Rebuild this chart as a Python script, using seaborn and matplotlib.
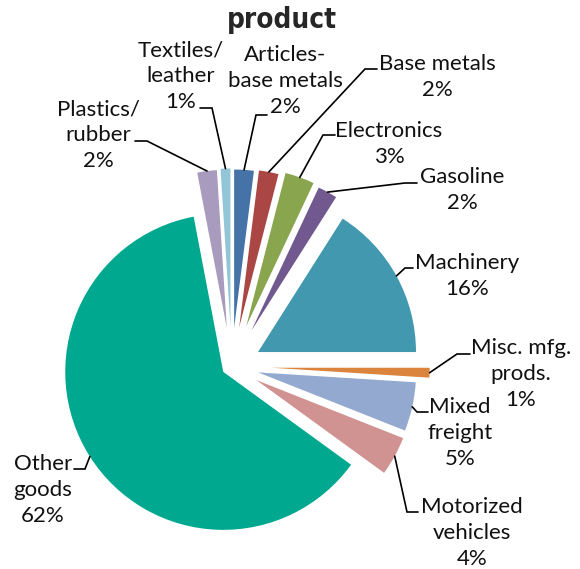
import matplotlib
matplotlib.use("Agg")

import numpy as np
import matplotlib.pyplot as plt
import seaborn as sns

# ==============================
# DATA
# ==============================
categories = ["Articles-\nbase metals", "Base metals", "Electronics", "Gasoline",
              "Machinery", "Misc. mfg.\nprods.", "Mixed\nfreight",
              "Motorized\nvehicles", "Other\ngoods", "Plastics/\nrubber",
              "Textiles/\nleather"]
shares = [2, 2, 3, 2, 16, 1, 5, 4, 62, 2, 1]
share_labels = ["2%", "2%", "3%", "2%", "16%", "1%", "5%", "4%", "62%", "2%", "1%"]

colors = ["#4572A7", "#AA4643", "#89A54E", "#71588F", "#4198AF", "#DB843D",
          "#93A9CF", "#D19392", "#00A88F", "#A99BBD", "#92C5D6"]

# ==============================
# LAYOUT (pixels, y measured from the top)
# ==============================
W, H = 580, 569
PIE_CENTER = (231.7, 366.5)
PIE_R = 158
explode_px = [39, 40, 43, 41, 30, 40, 27, 28, 10, 39, 40]

# text centre, leader knee, leader end
label_pos = [(285, 81), (437, 77), (389, 144), (462, 190), (467, 276),
             (521, 374), (460, 433), (472, 533), (43, 490), (98, 135), (181, 76)]
knees = [(256, 115), (365, 69), (323, 135), (405, 183), (405, 268),
         (457, 354), (417, 412), (407, 512), (85, 469), (147, 141), (212, 108)]
ends = [(267, 115), (377, 69), (335, 135), (417, 183), (413, 268),
        (470, 354), (428, 412), (418, 512), (74, 469), (135, 141), (200, 108)]


def flip(p):
    return (p[0], H - p[1])


# ==============================
# PLOT
# ==============================
sns.set_style("white")
plt.rcParams["font.family"] = ["Lato", "DejaVu Sans"]

fig = plt.figure(figsize=(W / 100, H / 100), dpi=100)
ax = fig.add_axes([0, 0, 1, 1])

# matplotlib's explode is an offset in data units (here: pixels)
wedges, _ = ax.pie(shares, colors=colors, explode=explode_px,
                   startangle=90, counterclock=False,
                   center=flip(PIE_CENTER), radius=PIE_R,
                   wedgeprops=dict(linewidth=0))

for w, cat, pct, tp, kn, en in zip(wedges, categories, share_labels,
                                   label_pos, knees, ends):
    mid = np.deg2rad((w.theta1 + w.theta2) / 2)
    start = (w.center[0] + w.r * np.cos(mid), w.center[1] + w.r * np.sin(mid))
    k = flip(kn)
    e = flip(en)
    ax.plot([start[0], k[0], e[0]], [start[1], k[1], e[1]],
            color="black", lw=1.2, solid_joinstyle="miter")
    x, y = flip(tp)
    ax.text(x, y, cat + "\n" + pct, ha="center", va="center",
            fontsize=16, linespacing=1.35, color="#111111")

ax.text(282, H - 28, "product", ha="center", va="baseline", fontsize=20,
        fontweight="bold", fontstretch="condensed", family="DejaVu Sans")

ax.set_xlim(0, W)
ax.set_ylim(0, H)
ax.set_aspect("equal")
ax.axis("off")

fig.savefig("out.png", dpi=100)
